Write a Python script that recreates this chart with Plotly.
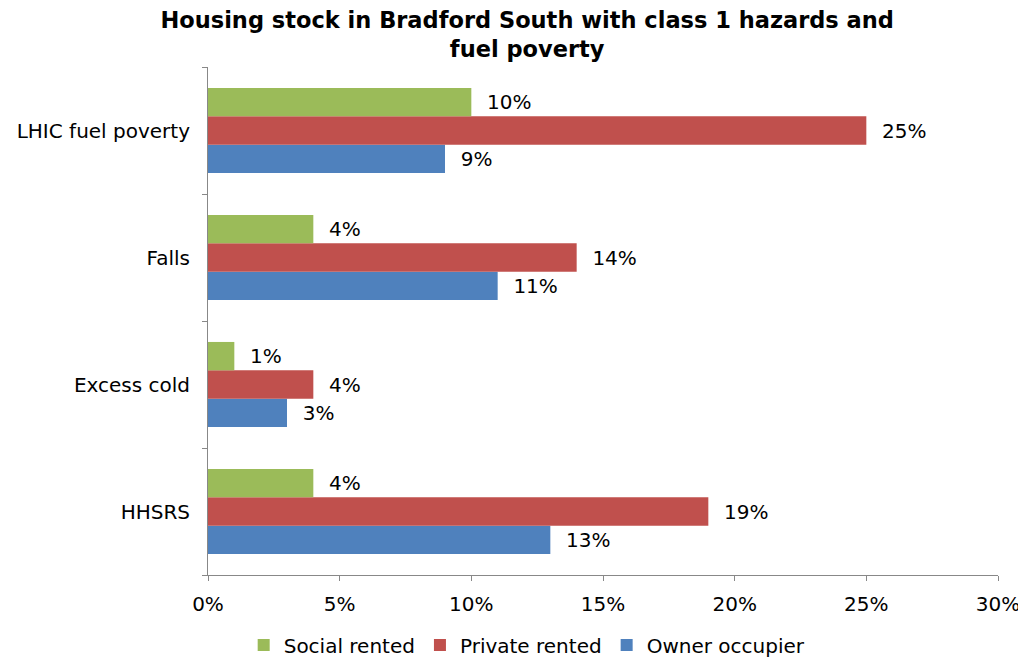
import plotly.graph_objects as go

categories = ["HHSRS", "Excess cold", "Falls", "LHIC fuel poverty"]
social_rented = [4, 1, 4, 10]
private_rented = [19, 4, 14, 25]
owner_occupier = [13, 3, 11, 9]
x_ticks = [0, 5, 10, 15, 20, 25, 30]
x_tick_labels = ["0%", "5%", "10%", "15%", "20%", "25%", "30%"]

FONT = "DejaVu Sans, Liberation Sans, Arial"

series = [
    ("Owner occupier", owner_occupier, "#4F81BD"),
    ("Private rented", private_rented, "#C0504D"),
    ("Social rented", social_rented, "#9BBB59"),
]

fig = go.Figure()
for name, vals, color in series:
    fig.add_trace(go.Bar(
        y=categories, x=vals, name=name, orientation="h",
        marker=dict(color=color, line=dict(width=0)),
        text=[f"\u00a0\u00a0{v}%" for v in vals], textposition="outside",
        textfont=dict(family=FONT, size=20, color="#000"),
        cliponaxis=False,
    ))

# page body adds an 8px offset; figure is sized so the plot lands where the reference has it
fig.update_layout(
    width=1018, height=650,
    barmode="group", bargap=0.33, bargroupgap=0,
    plot_bgcolor="white", paper_bgcolor="white",
    margin=dict(l=200, r=28, t=59, b=83, autoexpand=False),
    font=dict(family=FONT, size=20, color="#000"),
    title=dict(
        text="<b>Housing stock in Bradford South with class 1 hazards and<br>fuel poverty</b>",
        x=0.51, xanchor="center", y=0.969, yanchor="top",
        font=dict(family=FONT, size=22.5, color="#000"),
    ),
    xaxis=dict(
        range=[0, 30], tickvals=x_ticks, ticktext=x_tick_labels,
        showgrid=False, zeroline=False, showline=True, linecolor="#888", linewidth=1,
        ticks="outside", ticklen=5, tickcolor="#888", automargin=False,
        tickfont=dict(size=20), ticklabelstandoff=6,
    ),
    yaxis=dict(
        categoryorder="array", categoryarray=categories,
        showgrid=False, zeroline=False, showline=True, linecolor="#888", linewidth=1,
        ticks="outside", ticklen=5, tickcolor="#888", tickson="boundaries",
        automargin=False,
        tickfont=dict(size=20), ticklabelstandoff=13,
    ),
    legend=dict(
        orientation="h", traceorder="reversed",
        xref="container", yref="container",
        x=0.51, xanchor="center", y=0.02, yanchor="middle",
        font=dict(size=20), itemwidth=30,
    ),
)

fig.write_html("out.html")
